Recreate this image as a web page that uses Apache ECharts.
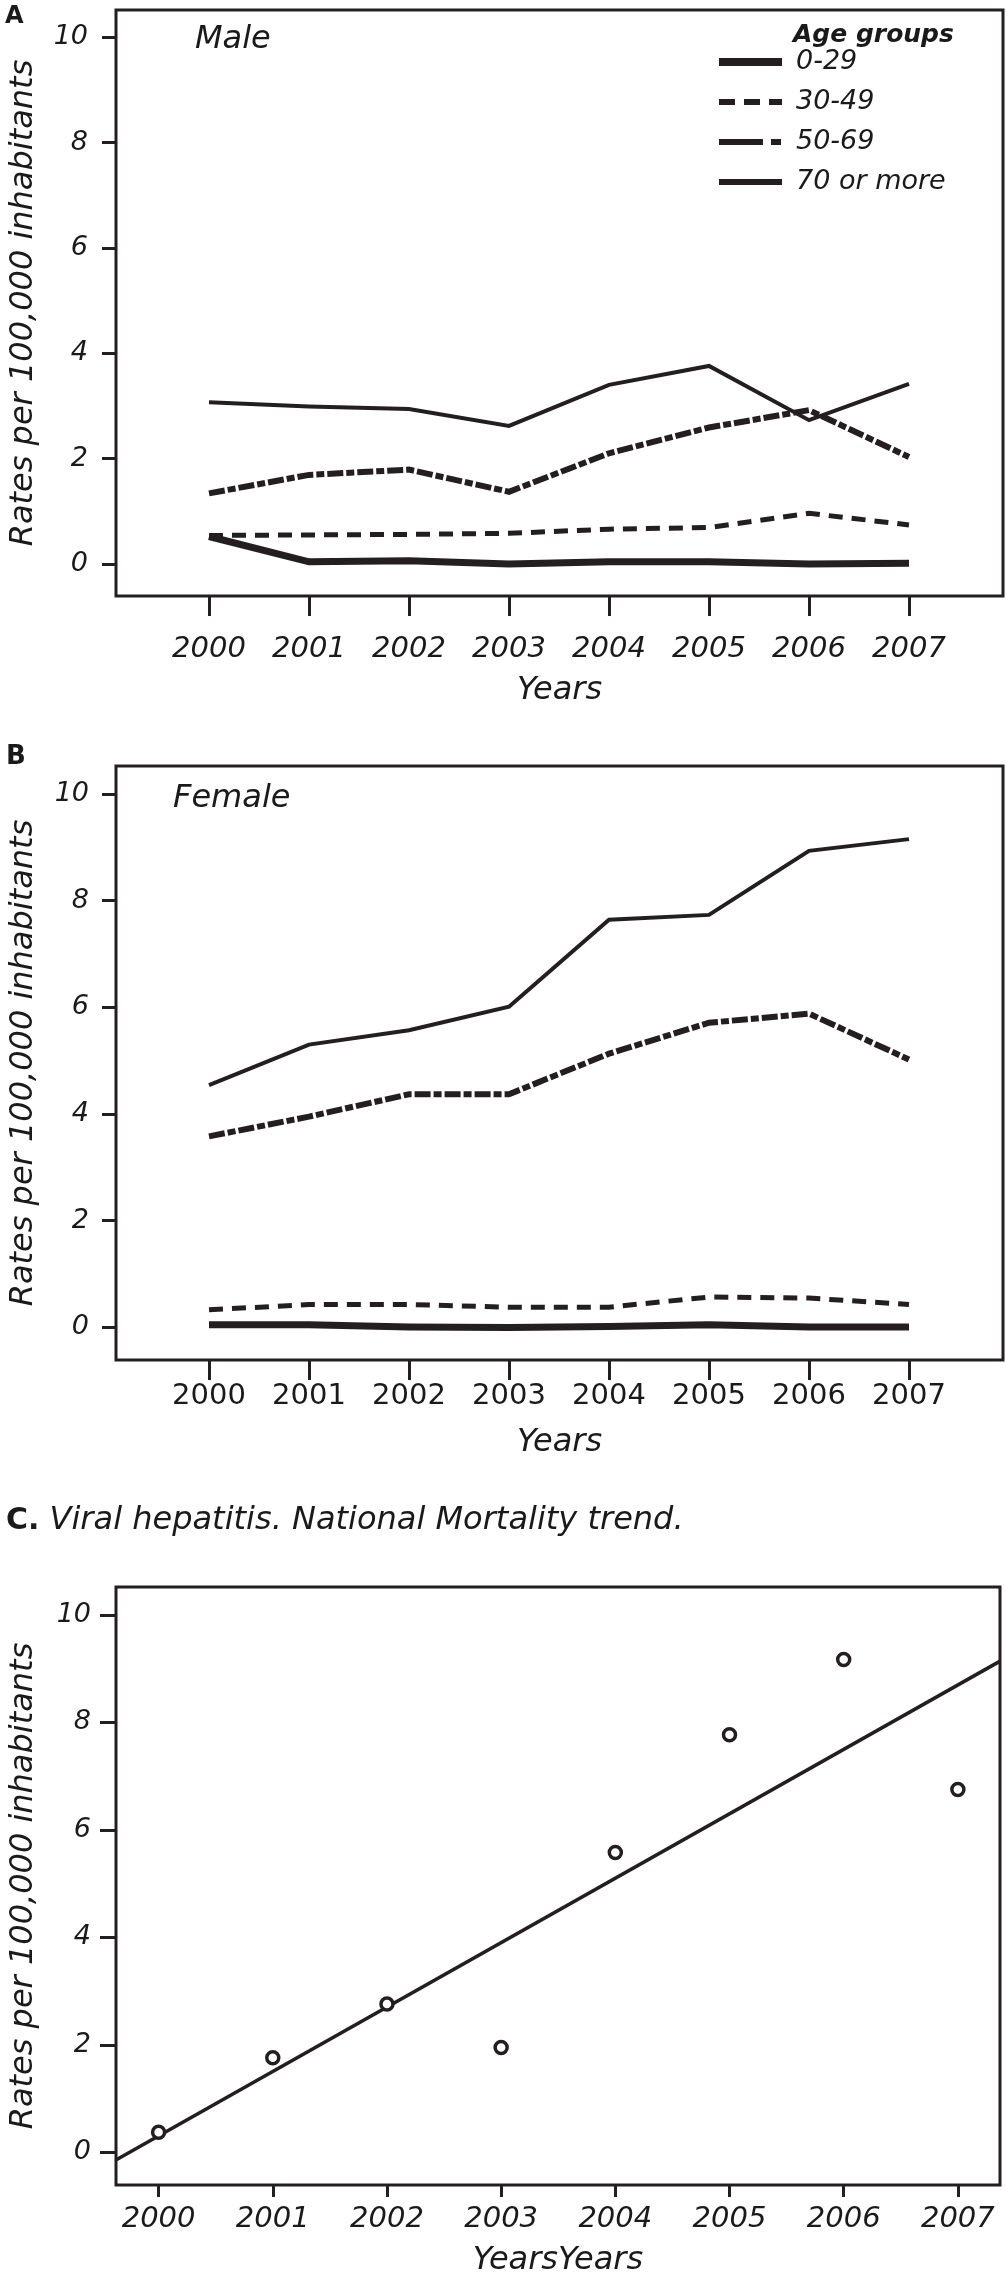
<!DOCTYPE html>
<html><head><meta charset="utf-8">
<script src="https://cdn.jsdelivr.net/npm/echarts@6/dist/echarts.min.js"></script>
<style>html,body{margin:0;padding:0;background:#fff}#c{width:1006px;height:2278px}</style>
</head><body><div id="c"></div>
<script>
// ---- data ----
const years = [2000, 2001, 2002, 2003, 2004, 2005, 2006, 2007];
const yTicks = [0, 2, 4, 6, 8, 10];
const ageGroups = ['0-29', '30-49', '50-69', '70 or more'];
const male0_29   = [0.52, 0.04, 0.06, 0.00, 0.04, 0.04, 0.00, 0.01];
const male30_49  = [0.54, 0.55, 0.56, 0.58, 0.66, 0.69, 0.96, 0.74];
const male50_69  = [1.34, 1.69, 1.79, 1.37, 2.10, 2.59, 2.92, 2.03];
const male70plus = [3.07, 2.99, 2.94, 2.62, 3.40, 3.76, 2.73, 3.42];
const female0_29   = [0.05, 0.05, 0.01, 0.00, 0.02, 0.05, 0.01, 0.01];
const female30_49  = [0.33, 0.43, 0.43, 0.38, 0.38, 0.57, 0.55, 0.43];
const female50_69  = [3.58, 3.95, 4.37, 4.37, 5.13, 5.71, 5.88, 5.02];
const female70plus = [4.54, 5.30, 5.57, 6.01, 7.64, 7.73, 8.93, 9.15];
const nationalRates = [0.37, 1.76, 2.76, 1.95, 5.58, 7.77, 9.17, 6.75];
const trendYears = [1999.63, 2007.37];
const trendRates = [-0.14, 9.14];

// ---- styles ----
const INK = '#231f20';
const TXT = '#1a1a1a';
const FONT = 'DejaVu Sans';
const plotLine = {
  '0-29': { width: 7, type: 'solid' },
  '30-49': { width: 5, type: [14, 9] },
  '50-69': { width: 6, type: [16, 3, 8, 3] },
  '70 or more': { width: 4, type: 'solid' }
};
const legendLine = {
  '0-29': { width: 8, type: 'solid' },
  '30-49': { width: 6, type: [16, 9] },
  '50-69': { width: 6, type: [44, 8, 10, 20] },
  '70 or more': { width: 6, type: 'solid' }
};

const pairs = (xs, ys) => xs.map((x, i) => [x, ys[i]]);

function xAxis(grid, min, max, italic, tickLen, margin, nameGap) {
  return {
    type: 'value', gridIndex: grid, min: min, max: max,
    axisLine: { show: false, onZero: false },
    splitLine: { show: false },
    axisTick: { show: true, length: tickLen, customValues: years, lineStyle: { color: INK, width: 3 } },
    axisLabel: { customValues: years, margin: margin, fontFamily: FONT, fontSize: 29,
      fontStyle: italic ? 'italic' : 'normal', color: TXT, formatter: v => String(v) },
    name: 'Years', nameLocation: 'middle', nameGap: nameGap,
    nameTextStyle: { fontFamily: FONT, fontSize: 32, fontStyle: 'italic', color: TXT }
  };
}
function yAxis(grid, tickLen, margin) {
  return {
    type: 'value', gridIndex: grid, min: -0.61, max: 10.52,
    axisLine: { show: false, onZero: false },
    splitLine: { show: false },
    axisTick: { show: true, length: tickLen, customValues: yTicks, lineStyle: { color: INK, width: 3 } },
    axisLabel: { customValues: yTicks, margin: margin, fontFamily: FONT, fontSize: 27,
      fontStyle: 'italic', color: TXT },
    name: 'Rates per 100,000 inhabitants', nameLocation: 'middle', nameGap: 76,
    nameTextStyle: { fontFamily: FONT, fontSize: 32, fontStyle: 'italic', color: TXT }
  };
}
function ageSeries(grid, arrays) {
  return ageGroups.map((g, k) => ({
    type: 'line', name: g, xAxisIndex: grid, yAxisIndex: grid,
    data: pairs(years, arrays[k]), symbol: 'none', silent: true,
    lineStyle: Object.assign({ color: INK, join: 'miter' }, plotLine[g]),
    itemStyle: { color: INK }, z: 3 + k
  }));
}

const gridStyle = { show: true, borderColor: INK, borderWidth: 3, backgroundColor: 'transparent' };

const option = {
  animation: false,
  backgroundColor: '#fff',
  grid: [
    Object.assign({ left: 110, top: 10, width: 893, height: 586 }, gridStyle),
    Object.assign({ left: 110, top: 766, width: 893, height: 594 }, gridStyle),
    Object.assign({ left: 107, top: 1587, width: 893, height: 603 }, gridStyle)
  ],
  xAxis: [
    xAxis(0, 1999.07, 2007.94, true, 20, 39, 79),
    xAxis(1, 1999.07, 2007.94, false, 20, 22, 67),
    Object.assign(xAxis(2, 1999.627, 2007.369, true, 12, 20, 60), { name: 'YearsYears' })
  ],
  yAxis: [yAxis(0, 14, 28), yAxis(1, 14, 27), yAxis(2, 16, 25)],
  title: [
    { text: 'A', left: 5, top: 3, padding: 0, textStyle: { fontFamily: FONT, fontWeight: 'bold', fontSize: 24, color: TXT, lineHeight: 28 } },
    { text: 'Male', left: 195, top: 21, padding: 0, textStyle: { fontFamily: FONT, fontStyle: 'italic', fontWeight: 'normal', fontSize: 32, color: TXT, lineHeight: 38 } },
    { text: 'Age groups', left: 793, top: 20, padding: 0, textStyle: { fontFamily: FONT, fontStyle: 'italic', fontWeight: 'bold', fontSize: 25, color: TXT, lineHeight: 30 } },
    { text: 'B', left: 6, top: 742, padding: 0, textStyle: { fontFamily: FONT, fontWeight: 'bold', fontSize: 26, color: TXT, lineHeight: 30 } },
    { text: 'Female', left: 173, top: 780, padding: 0, textStyle: { fontFamily: FONT, fontStyle: 'italic', fontWeight: 'normal', fontSize: 32, color: TXT, lineHeight: 38 } },
    { text: '{b|C.} {i|Viral hepatitis. National Mortality trend.}', left: 6, top: 1502, padding: 0,
      textStyle: { fontFamily: FONT, fontSize: 32, fontWeight: 'normal', color: TXT, lineHeight: 38,
        rich: {
          b: { fontFamily: FONT, fontWeight: 'bold', fontStyle: 'normal', fontSize: 30, color: TXT, lineHeight: 38 },
          i: { fontFamily: FONT, fontStyle: 'italic', fontWeight: 'normal', fontSize: 32, color: TXT, lineHeight: 38 }
        } } }
  ],
  legend: {
    orient: 'vertical', left: 715, top: 47, padding: 0, itemWidth: 63, itemHeight: 2, itemGap: 10,
    selectedMode: false,
    data: ageGroups.map(g => ({ name: g, lineStyle: Object.assign({ color: INK }, legendLine[g]) })),
    itemStyle: { color: 'rgba(0,0,0,0)', borderWidth: 0 },
    textStyle: { fontFamily: FONT, fontStyle: 'italic', fontSize: 27, color: TXT, lineHeight: 30, padding: [0, 0, 0, 9] }
  },
  series: [
    ...ageSeries(0, [male0_29, male30_49, male50_69, male70plus]),
    ...ageSeries(1, [female0_29, female30_49, female50_69, female70plus]),
    {
      type: 'line', name: 'trend', xAxisIndex: 2, yAxisIndex: 2,
      data: pairs(trendYears, trendRates), symbol: 'none', silent: true,
      lineStyle: { color: INK, width: 3.5 }, z: 3
    },
    {
      type: 'scatter', name: 'national', xAxisIndex: 2, yAxisIndex: 2,
      data: pairs(years, nationalRates), symbol: 'circle', symbolSize: 12, silent: true,
      itemStyle: { color: '#ffffff', borderColor: INK, borderWidth: 3.5, opacity: 1 }, z: 4
    }
  ]
};

const chart = echarts.init(document.getElementById('c'), null, { renderer: 'canvas' });
chart.setOption(option);
</script>
</body></html>
